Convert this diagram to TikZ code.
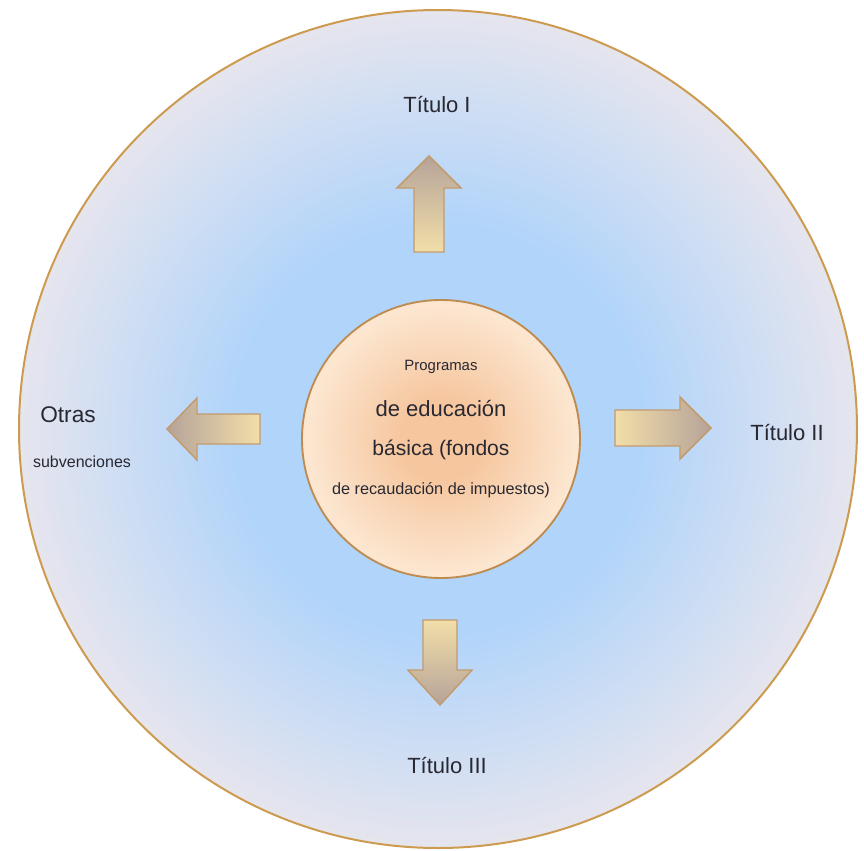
\documentclass[tikz,border=0pt]{standalone}
\usepackage{fontspec}
\setmainfont{Liberation Sans}
\usetikzlibrary{shapes}
\definecolor{celeste}{RGB}{176,212,250}
\definecolor{lavanda}{RGB}{230,229,238}
\definecolor{borde}{RGB}{205,155,80}
\definecolor{bordecentro}{RGB}{190,140,80}
\definecolor{durazno}{RGB}{246,198,158}
\definecolor{duraznoclaro}{RGB}{252,230,208}
\definecolor{puntagris}{RGB}{182,163,153}
\definecolor{colapeach}{RGB}{246,202,162}
\definecolor{colaverde}{RGB}{242,222,168}
\definecolor{bordeflecha}{RGB}{195,155,110}
\definecolor{texto}{RGB}{40,40,50}
\pgfdeclareradialshading{fondo}{\pgfpoint{0bp}{0bp}}{color(0bp)=(celeste); color(12bp)=(celeste); color(25bp)=(lavanda); color(50bp)=(lavanda)}
\pgfdeclareradialshading{nucleo}{\pgfpoint{0bp}{0bp}}{color(0bp)=(durazno); color(7bp)=(durazno); color(24bp)=(duraznoclaro); color(50bp)=(duraznoclaro)}

\begin{document}
\begin{tikzpicture}[x=0.75pt, y=-0.75pt,
  flecha/.style={draw=bordeflecha, line width=1.1pt, line join=miter},
  titulo/.style={text=texto, font=\fontsize{16.5}{18}\selectfont, inner sep=0pt},
  linea/.style={text=texto, inner sep=0pt}]

\useasboundingbox (0,0) rectangle (864,850);

\node[circle, inner sep=0pt, minimum size=628.5pt, shade, shading=fondo, draw=borde, line width=1.5pt] (mundo) at (438,429) {};
\node[circle, inner sep=0pt, minimum size=208.5pt, shade, shading=nucleo, draw=bordecentro, line width=1.4pt] (centro) at (441,439) {};

\node[linea, font=\fontsize{11.2}{13}\selectfont] (programas) at (441,367) {Programas};
\node[linea, font=\fontsize{16.5}{18}\selectfont] (educacion) at (441,408) {de educación};
\node[linea, font=\fontsize{15.8}{18}\selectfont] (basica) at (441,450) {básica (fondos};
\node[linea, font=\fontsize{12.2}{14}\selectfont] (recaudacion) at (441,490) {de recaudación de impuestos)};

% flechas
\draw[flecha, top color=puntagris, middle color=colapeach, bottom color=colaverde]
  (414,252) -- (414,188) -- (397,188) -- (429,156) -- (461,188) -- (444,188) -- (444,252) -- cycle;
\draw[flecha, bottom color=puntagris, middle color=colapeach, top color=colaverde]
  (423,620) -- (423,670) -- (408,670) -- (440,705) -- (472,670) -- (457,670) -- (457,620) -- cycle;
\draw[flecha, left color=puntagris, middle color=colapeach, right color=colaverde]
  (260,414) -- (197,414) -- (197,398) -- (167,429) -- (197,460) -- (197,444) -- (260,444) -- cycle;
\draw[flecha, right color=puntagris, middle color=colapeach, left color=colaverde]
  (615,410) -- (680,410) -- (680,397) -- (711,428) -- (680,459) -- (680,446) -- (615,446) -- cycle;

\node[titulo] (titulo1) at (437,105) {Título I};
\node[titulo] (titulo2) at (787,432) {Título II};
\node[titulo] (titulo3) at (447,765) {Título III};
\node[titulo, font=\fontsize{17}{19}\selectfont] (otras) at (68,415) {Otras};
\node[linea, font=\fontsize{12}{14}\selectfont] (subvenciones) at (82,462) {subvenciones};

\end{tikzpicture}
\end{document}
